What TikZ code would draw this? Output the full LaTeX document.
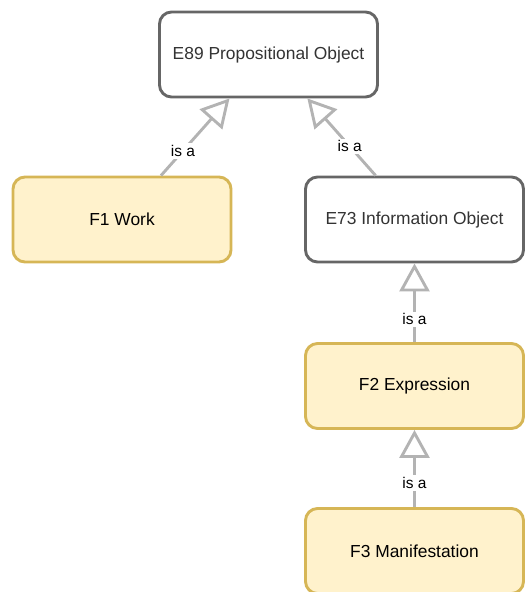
\documentclass[tikz,border=0pt]{standalone}
\usepackage{fontspec}
\setmainfont{Liberation Sans}
\usetikzlibrary{arrows.meta}
\definecolor{boxline}{HTML}{666666}
\definecolor{boxtext}{HTML}{333333}
\definecolor{frbrfill}{HTML}{FFF2CC}
\definecolor{frbrline}{HTML}{D6B656}
\definecolor{isaline}{HTML}{B3B3B3}
\begin{document}
\begin{tikzpicture}[x=1pt, y=-1pt,
        crm/.style={draw=boxline, line width=2.9pt, rounded corners=12pt, fill=white, text=boxtext,
            minimum width=218pt, minimum height=85pt, font=\fontsize{17.4}{20}\selectfont},
        frbr/.style={crm, draw=frbrline, fill=frbrfill, text=black},
        isa/.style={draw=isaline, line width=2.9pt, -{Triangle[open, length=28pt, width=30pt]}},
        lbl/.style={fill=white, inner sep=2pt, text=black, font=\fontsize{15.5}{18}\selectfont}]
        \useasboundingbox (0,0) rectangle (525,592);
        \node[crm] (e89) at (268.5,54.5) {E89 Propositional Object};
        \node[frbr] (f1) at (122,219.5) {F1 Work};
        \node[crm] (e73) at (414.5,219.5) {E73 Information Object};
        \node[frbr] (f2) at (414.5,386) {F2 Expression};
        \node[frbr] (f3) at (414.5,551) {F3 Manifestation};
        \draw[isa] (f1) -- node[lbl, pos=0.32] {is a} (e89);
        \draw[isa] (e73) -- node[lbl, pos=0.38] {is a} (e89);
        \draw[isa] (f2) -- node[lbl, pos=0.29] {is a} (e73);
        \draw[isa] (f3) -- node[lbl, pos=0.31] {is a} (f2);
    \end{tikzpicture}
\end{document}
